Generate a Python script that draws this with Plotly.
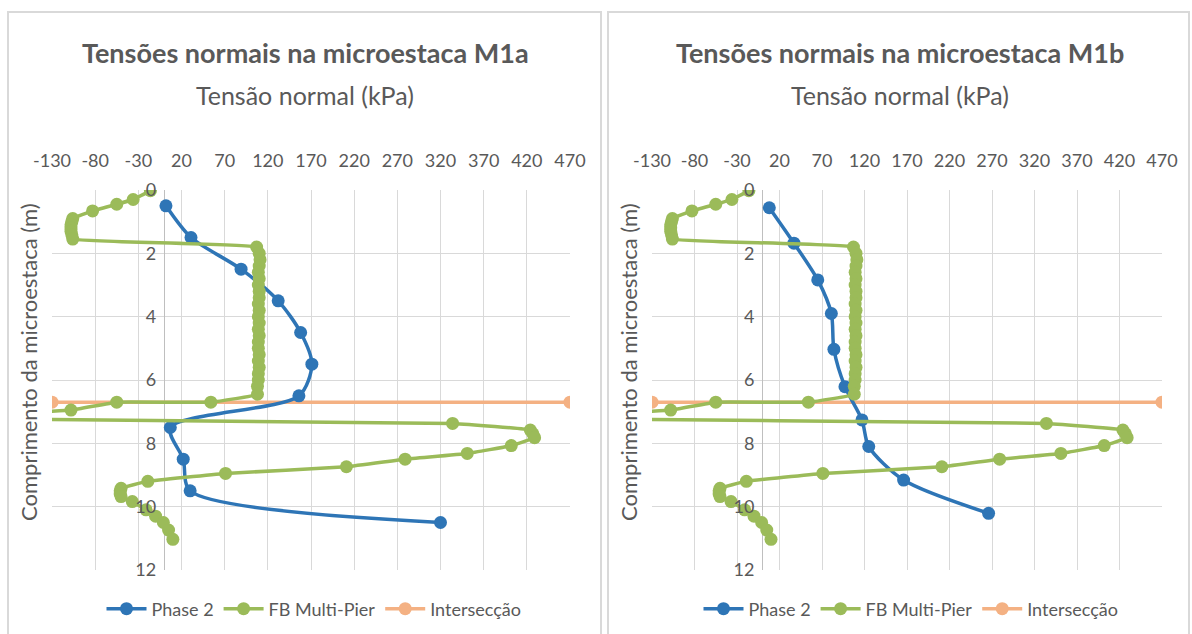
import plotly.graph_objects as go

# ---------------- data ----------------
x_ticks = [-130, -80, -30, 20, 70, 120, 170, 220, 270, 320, 370, 420, 470]
y_ticks = [0, 2, 4, 6, 8, 10, 12]

phase2_a_x = [2, 31, 89, 132, 158, 171, 156, 7, 22, 30, 320]
phase2_a_y = [0.5, 1.5, 2.5, 3.5, 4.5, 5.5, 6.5, 7.5, 8.5, 9.5, 10.5]

phase2_b_x = [8, 37, 65, 81, 84, 97, 117, 125, 166, 266]
phase2_b_y = [0.56, 1.68, 2.84, 3.9, 5.03, 6.21, 7.26, 8.1, 9.16, 10.21]

fb_x = [-16, -36, -55, -83, -106, -107, -108, -108, -108, -107, -106,
        107, 110, 111, 110, 109, 110, 109, 110, 110, 109, 110, 109, 110,
        109, 110, 109, 109, 110, 109, 110, 109, 109, 108, 108,
        54, -55, -108, -300, 334, 424, 427, 429, 402, 351, 279, 211, 71,
        -19, -50, -51, -51, -50, -37, -21, -10, -1, 5, 10]
fb_y = [0.02, 0.3, 0.45, 0.66, 0.9, 1.0, 1.1, 1.2, 1.3, 1.42, 1.55,
        1.8, 2.0, 2.2, 2.4, 2.6, 2.8, 3.0, 3.2, 3.4, 3.6, 3.8, 4.0, 4.2,
        4.4, 4.6, 4.8, 5.0, 5.2, 5.4, 5.6, 5.8, 6.0, 6.2, 6.45,
        6.7, 6.7, 6.95, 7.2, 7.37, 7.58, 7.7, 7.82, 8.07, 8.32, 8.5, 8.74, 8.95,
        9.2, 9.42, 9.5, 9.6, 9.68, 9.84, 10.1, 10.3, 10.5, 10.74, 11.03]

inter_x = [-130, 470]
inter_y = [6.7, 6.7]

titles = ["Tensões normais na microestaca M1a", "Tensões normais na microestaca M1b"]
x_title = "Tensão normal (kPa)"
y_title = "Comprimento da microestaca (m)"
series_names = ["Phase 2", "FB Multi-Pier", "Intersecção"]

# ---------------- style ----------------
W, H = 1192, 634
BLUE, GREEN, ORANGE = "#2E75B6", "#9BBB59", "#F4B183"
TXT = "#595959"
GRID = "#D9D9D9"
FONT = "Lato"
MS = 13

def px_x(p):
    return p / W

def px_y(p):
    return 1 - p / H

dom_a = [px_x(52), px_x(570)]
dom_b = [px_x(652), px_x(1162)]
dom_y = [px_y(570), px_y(190)]

fig = go.Figure()

panels = [
    ("x", "y", dom_a, phase2_a_x, phase2_a_y, "legend"),
    ("x2", "y2", dom_b, phase2_b_x, phase2_b_y, "legend2"),
]

for xa, ya, dom, bx, by, leg in panels:
    fig.add_trace(go.Scatter(
        x=inter_x, y=inter_y, xaxis=xa, yaxis=ya, name=series_names[2],
        mode="lines+markers", line=dict(color=ORANGE, width=3.5),
        marker=dict(color=ORANGE, size=MS), legend=leg, legendrank=3))
    fig.add_trace(go.Scatter(
        x=bx, y=by, xaxis=xa, yaxis=ya, name=series_names[0],
        mode="lines+markers", line=dict(color=BLUE, width=3.5, shape="spline", smoothing=0.8),
        marker=dict(color=BLUE, size=MS), legend=leg, legendrank=1))
    fig.add_trace(go.Scatter(
        x=fb_x, y=fb_y, xaxis=xa, yaxis=ya, name=series_names[1],
        mode="lines+markers", line=dict(color=GREEN, width=3.5, shape="spline", smoothing=0.3),
        marker=dict(color=GREEN, size=MS), legend=leg, legendrank=2))

def xaxis_cfg(dom, yanchor):
    return dict(
        domain=dom, range=[-130, 470], side="top", anchor=yanchor,
        tickmode="array", tickvals=x_ticks, ticktext=[str(v) for v in x_ticks],
        showgrid=True, gridcolor=GRID, gridwidth=1,
        zeroline=True, zerolinecolor="#BFBFBF", zerolinewidth=1,
        showline=False, ticks="", ticklabelstandoff=18, automargin=False,
        tickfont=dict(family=FONT, size=18, color=TXT),
        fixedrange=True,
    )

def yaxis_cfg(dom_x):
    pos = dom_x[0] + (130 / 600) * (dom_x[1] - dom_x[0])
    return dict(
        domain=dom_y, range=[12, 0], anchor="free", position=pos,
        tickmode="array", tickvals=y_ticks,
        showgrid=True, gridcolor=GRID, gridwidth=1, zeroline=False,
        showline=False, ticks="", ticklabelstandoff=8, automargin=False,
        tickfont=dict(family=FONT, size=18, color=TXT),
        fixedrange=True,
    )

fig.update_layout(
    width=W, height=H, autosize=False,
    margin=dict(l=0, r=0, t=0, b=0, pad=0, autoexpand=False),
    paper_bgcolor="white", plot_bgcolor="white",
    font=dict(family=FONT, color=TXT),
    xaxis=xaxis_cfg(dom_a, "y"),
    xaxis2=xaxis_cfg(dom_b, "y2"),
    yaxis=yaxis_cfg(dom_a),
    yaxis2=yaxis_cfg(dom_b),
    showlegend=True,
    legend=dict(orientation="h", x=px_x(314), xanchor="center", y=px_y(609), yanchor="middle",
                font=dict(family=FONT, size=18, color=TXT), itemwidth=40, bgcolor="rgba(0,0,0,0)",
                traceorder="normal"),
    legend2=dict(orientation="h", x=px_x(911), xanchor="center", y=px_y(609), yanchor="middle",
                 font=dict(family=FONT, size=18, color=TXT), itemwidth=40, bgcolor="rgba(0,0,0,0)",
                 traceorder="normal"),
)

annotations = []
for title, cx in zip(titles, [305, 900]):
    annotations.append(dict(text=f"<b>{title}</b>", x=px_x(cx), y=px_y(52), xref="paper", yref="paper",
                            showarrow=False, xanchor="center", yanchor="middle",
                            font=dict(family=FONT, size=27, color=TXT)))
    annotations.append(dict(text=x_title, x=px_x(cx), y=px_y(95), xref="paper", yref="paper",
                            showarrow=False, xanchor="center", yanchor="middle",
                            font=dict(family=FONT, size=25, color=TXT)))
for cx in [28, 628]:
    annotations.append(dict(text=y_title, x=px_x(cx), y=px_y(362), xref="paper", yref="paper",
                            showarrow=False, xanchor="center", yanchor="middle", textangle=-90,
                            font=dict(family=FONT, size=22, color=TXT)))
fig.update_layout(annotations=annotations)

# chart-area borders
shapes = []
for x0, x1 in [(8, 601), (608, 1189)]:
    shapes.append(dict(type="rect", xref="paper", yref="paper",
                       x0=px_x(x0), x1=px_x(x1), y0=px_y(636), y1=px_y(12),
                       line=dict(color=GRID, width=2), fillcolor="rgba(0,0,0,0)", layer="below"))
fig.update_layout(shapes=shapes)

fig.write_html("out.html", config={"displayModeBar": False})
